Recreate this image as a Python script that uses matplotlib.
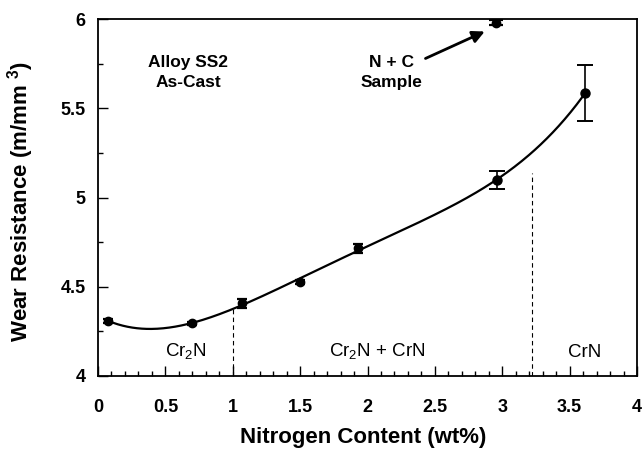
import numpy as np
import matplotlib
matplotlib.use("Agg")
import matplotlib.pyplot as plt

plt.rcParams["font.family"] = ["Liberation Sans", "DejaVu Sans"]
plt.rcParams["mathtext.fontset"] = "custom"
plt.rcParams["mathtext.rm"] = "Liberation Sans"
plt.rcParams["mathtext.bf"] = "Liberation Sans:bold"

# Wear resistance of alloy SS2 (as-cast) versus nitrogen content
nitrogen = [0.077, 0.695, 1.066, 1.499, 1.932, 2.959, 3.614]
wear = [4.308, 4.295, 4.407, 4.528, 4.715, 5.098, 5.584]
wear_err = [0.010, 0.008, 0.024, 0.010, 0.026, 0.049, 0.158]

# Nitrogen + carbon sample
nc_nitrogen = [2.953]
nc_wear = [5.98]
nc_err = [0.015]

# Phase boundaries and phase labels
boundaries = [1.0, 3.22]
boundary_tops = [4.39, 5.14]
phase_labels = ["Cr$_2$N", "Cr$_2$N + CrN", "CrN"]
phase_label_x = [0.65, 2.07, 3.61]

xticks = [0, 0.5, 1, 1.5, 2, 2.5, 3, 3.5, 4]
xticklabels = ["0", "0.5", "1", "1.5", "2", "2.5", "3", "3.5", "4"]
yticks = [4, 4.5, 5, 5.5, 6]
yticklabels = ["4", "4.5", "5", "5.5", "6"]

fig = plt.figure(figsize=(6.42, 4.49), dpi=100)
ax = fig.add_axes([98 / 642, 73 / 449, 539 / 642, 357 / 449])

# 4th-order polynomial trend through the measurements
coef = np.polyfit(nitrogen, wear, 4)
xs = np.linspace(nitrogen[0], nitrogen[-1], 400)
ax.plot(xs, np.polyval(coef, xs), color="black", lw=1.6, zorder=3)

ax.errorbar(nitrogen[:5], wear[:5], yerr=wear_err[:5], fmt="o",
            color="black", ms=6, capsize=3.5, elinewidth=1.2, capthick=1.6,
            zorder=4)
ax.errorbar(nitrogen[5:], wear[5:], yerr=wear_err[5:], fmt="o",
            color="black", ms=6.5, capsize=6, elinewidth=1.2, capthick=1.4,
            zorder=4)
ax.errorbar(nc_nitrogen, nc_wear, yerr=nc_err, fmt="o", color="black",
            ms=6, capsize=5, elinewidth=1.2, capthick=1.6, zorder=4)

# phase boundary markers
for b, top in zip(boundaries, boundary_tops):
    ax.plot([b, b], [4.0, top], color="black", lw=0.8,
            ls=(0, (4, 3)), zorder=2)

for lbl, x in zip(phase_labels, phase_label_x):
    ax.text(x, 4.133, lbl, ha="center", va="center", fontsize=13.5)

ax.text(0.67, 5.70, "Alloy SS2\nAs-Cast", ha="center", va="center",
        fontsize=12.5, fontweight="bold", linespacing=1.35)
ax.annotate("N + C\nSample", xy=(2.87, 5.93), xytext=(2.18, 5.70),
            ha="center", va="center", fontsize=12.5, fontweight="bold",
            linespacing=1.35,
            arrowprops=dict(arrowstyle="-|>", color="black", lw=2.0,
                            mutation_scale=18, shrinkA=0, shrinkB=0,
                            relpos=(0.97, 0.85)))

ax.set_xlim(0, 4)
ax.set_ylim(4, 6)
ax.set_xticks(xticks)
ax.set_xticklabels(xticklabels)
ax.set_yticks(yticks)
ax.set_yticklabels(yticklabels)
ax.set_xticks(np.arange(0, 4.01, 0.1), minor=True)
ax.set_yticks(np.arange(4, 6.01, 0.25), minor=True)
ax.tick_params(which="both", direction="in", top=False, right=False,
               width=1.0)
ax.tick_params(which="major", length=7)
ax.tick_params(which="minor", length=3.5)
ax.tick_params(axis="x", which="major", pad=16.5)
ax.tick_params(axis="y", which="major", pad=9)
for t in ax.get_xticklabels() + ax.get_yticklabels():
    t.set_fontsize(13)
    t.set_fontweight("bold")
for s in ax.spines.values():
    s.set_linewidth(1.3)

ax.set_xlabel("Nitrogen Content (wt%)", fontsize=16, fontweight="bold")
ax.set_ylabel(r"Wear Resistance (m/mm $\mathbf{^3}$)", fontsize=16,
              fontweight="bold")
ax.xaxis.set_label_coords(0.5 - 4 / 539, -51 / 357)
ax.xaxis.label.set_va("top")
ax.yaxis.set_label_coords(-62 / 539, 0.49)

fig.savefig("out.png", dpi=100)
